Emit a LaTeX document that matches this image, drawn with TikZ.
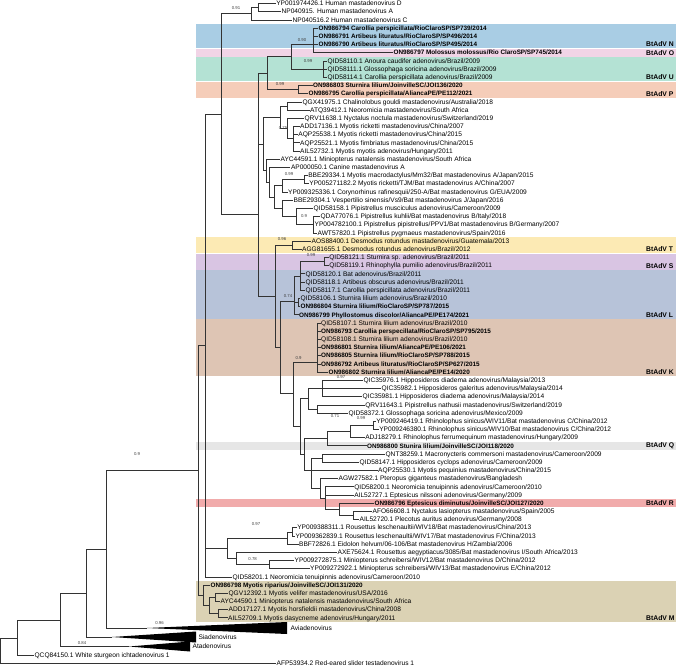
\documentclass[tikz,border=0pt]{standalone}
\usepackage{fontspec}
\setmainfont{Liberation Sans}
\definecolor{cladeN}{HTML}{A9CDE4}
\definecolor{cladeO}{HTML}{F1D4E6}
\definecolor{cladeU}{HTML}{B4E2D4}
\definecolor{cladeP}{HTML}{F5CDB9}
\definecolor{cladeT}{HTML}{FCEAB4}
\definecolor{cladeS}{HTML}{D9C5E3}
\definecolor{cladeL}{HTML}{B7C3D9}
\definecolor{cladeK}{HTML}{DEC5B4}
\definecolor{cladeQ}{HTML}{E6E6E6}
\definecolor{cladeR}{HTML}{F1ABAB}
\definecolor{cladeM}{HTML}{DBD2B4}
\newcommand{\lf}[5][leaf]{\node[#1] (#2) at (#4,{3.5+(#3-1)*8.19}) {#5};}
\newcommand{\br}[2]{\foreach \ch in {#2} {\draw[branch] (#1) |- (\ch);}}

\begin{document}
\begin{tikzpicture}[x=1pt,y=-1pt,
    leaf/.style={anchor=west,inner sep=0.4pt,text height=4.6pt,text depth=0pt,font=\fontsize{6.6}{7}\selectfont},
    bleaf/.style={leaf,font=\fontsize{6.35}{7}\selectfont\bfseries},
    supp/.style={inner sep=0pt,text=black!75,font=\fontsize{4.3}{5}\selectfont},
    clade/.style={anchor=west,inner sep=0pt,font=\fontsize{6.8}{7}\selectfont\bfseries},
    branch/.style={draw=black!80,line width=0.55pt},
    wedge/.style={fill=black}]
\useasboundingbox (0,0) rectangle (676,668);

\fill[cladeN] (196,24.0) rectangle (676,48.3);
\fill[cladeO] (196,48.8) rectangle (676,56.6);
\fill[cladeU] (196,57.1) rectangle (676,81.1);
\fill[cladeP] (196,81.6) rectangle (676,97.6);
\fill[cladeT] (196,236.9) rectangle (676,253.1);
\fill[cladeS] (196,253.6) rectangle (676,269.5);
\fill[cladeL] (196,270.0) rectangle (676,318.6);
\fill[cladeK] (196,319.1) rectangle (676,376.1);
\fill[cladeQ] (196,441.7) rectangle (676,449.8);
\fill[cladeR] (196,499.0) rectangle (676,507.2);
\fill[cladeM] (196,580.9) rectangle (676,621.8);

\lf{L1}{1}{275.7}{YP001974426.1 Human mastadenovirus D}
\lf{L2}{2}{281}{NP040915. Human mastadenovirus A}
\lf{L3}{3}{292}{NP040516.2 Human mastadenovirus C}
\lf[bleaf]{L4}{4}{318}{ON986794 Carollia perspicillata/RioClaroSP/SP739/2014}
\lf[bleaf]{L5}{5}{318}{ON986791 Artibeus lituratus/RioClaroSP/SP496/2014}
\lf[bleaf]{L6}{6}{318}{ON986790 Artibeus lituratus/RioClaroSP/SP495/2014}
\lf[bleaf]{L7}{7}{393}{ON986797 Molossus molossus/Rio ClaroSP/SP745/2014}
\lf{L8}{8}{327}{QID58110.1 Anoura caudifer adenovirus/Brazil/2009}
\lf{L9}{9}{327}{QID58111.1 Glossophaga soricina adenovirus/Brazil/2009}
\lf{L10}{10}{327}{QID58114.1 Carollia perspicillata adenovirus/Brazil/2009}
\lf[bleaf]{L11}{11}{312.5}{ON986803 Sturnira lilium/JoinvilleSC/JOI136/2020}
\lf[bleaf]{L12}{12}{308}{ON986795 Carollia perspicillata/AliancaPE/PE112/2021}
\lf{L13}{13}{302}{QGX41975.1 Chalinolobus gouldi mastadenovirus/Australia/2018}
\lf{L14}{14}{309.5}{ATQ39412.1 Neoromicia mastadenovirus/South Africa}
\lf{L15}{15}{304}{QRV11638.1 Nyctalus noctula mastadenovirus/Switzerland/2019}
\lf{L16}{16}{299.6}{ADD17136.1 Myotis ricketti mastadenovirus/China/2007}
\lf{L17}{17}{297.8}{AQP25538.1 Myotis ricketti mastadenovirus/China/2015}
\lf{L18}{18}{299.6}{AQP25521.1 Myotis fimbriatus mastadenovirus/China/2015}
\lf{L19}{19}{299.6}{AIL52732.1 Myotis myotis adenovirus/Hungary/2011}
\lf{L20}{20}{280}{AYC44591.1 Miniopterus natalensis mastadenovirus/South Africa}
\lf{L21}{21}{290.4}{AP000050.1 Canine mastadenovirus A}
\lf{L22}{22}{307.7}{BBE29334.1 Myotis macrodactylus/Mm32/Bat mastadenovirus A/Japan/2015}
\lf{L23}{23}{308.8}{YP005271182.2 Myotis ricketti/TJM/Bat mastadenovirus A/China/2007}
\lf{L24}{24}{287.5}{YP009325336.1 Corynorhinus rafinesquii/250-A/Bat mastadenovirus G/EUA/2009}
\lf{L25}{25}{293}{BBE29304.1 Vespertilio sinensis/Vs9/Bat mastadenovirus J/Japan/2016}
\lf{L26}{26}{313}{QID58158.1 Pipistrellus musciculus adenovirus/Cameroon/2009}
\lf{L27}{27}{320}{QDA77076.1 Pipistrellus kuhlii/Bat mastadenovirus B/Italy/2018}
\lf{L28}{28}{314}{YP004782100.1 Pipistrellus pipistrellus/PPV1/Bat mastadenovirus B/Germany/2007}
\lf{L29}{29}{317}{AWT57820.1 Pipistrellus pygmaeus mastadenovirus/Spain/2016}
\lf{L30}{30}{311}{AOS88400.1 Desmodus rotundus mastadenovirus/Guatemala/2013}
\lf{L31}{31}{301.5}{AGG81655.1 Desmodus rotundus adenovirus/Brazil/2012}
\lf{L32}{32}{328.7}{QID58121.1 Sturnira sp. adenovirus/Brazil/2011}
\lf{L33}{33}{328.7}{QID58119.1 Rhinophylla pumilio adenovirus/Brazil/2011}
\lf{L34}{34}{305}{QID58120.1 Bat adenovirus/Brazil/2011}
\lf{L35}{35}{305}{QID58118.1 Artibeus obscurus adenovirus/Brazil/2011}
\lf{L36}{36}{305}{QID58117.1 Carollia perspicillata adenovirus/Brazil/2011}
\lf{L37}{37}{300}{QID58106.1 Sturnira lilium adenovirus/Brazil/2010}
\lf[bleaf]{L38}{38}{300}{ON986804 Sturnira lilium/RioClaroSP/SP787/2015}
\lf[bleaf]{L39}{39}{298.5}{ON986799 Phyllostomus discolor/AliancaPE/PE174/2021}
\lf{L40}{40}{320.6}{QID58107.1 Sturnira lilium adenovirus/Brazil/2010}
\lf[bleaf]{L41}{41}{320.6}{ON986793 Carollia perspecillata/RioClaroSP/SP795/2015}
\lf{L42}{42}{320.6}{QID58108.1 Sturnira lilium adenovirus/Brazil/2010}
\lf[bleaf]{L43}{43}{320.6}{ON986801 Sturnira lilium/AliancaPE/PE106/2021}
\lf[bleaf]{L44}{44}{320.6}{ON986805 Sturnira lilium/RioClaroSP/SP788/2015}
\lf[bleaf]{L45}{45}{320.6}{ON986792 Artibeus lituratus/RioClaroSP/SP627/2015}
\lf[bleaf]{L46}{46}{328}{ON986802 Sturnira lilium/AliancaPE/PE14/2020}
\lf{L47}{47}{363}{QIC35976.1 Hipposideros diadema adenovirus/Malaysia/2013}
\lf{L48}{48}{381}{QIC35982.1 Hipposideros galeritus adenovirus/Malaysia/2014}
\lf{L49}{49}{362}{QIC35981.1 Hipposideros diadema adenovirus/Malaysia/2014}
\lf{L50}{50}{364.7}{QRV11643.1 Pipistrellus nathusii mastadenovirus/Switzerland/2019}
\lf{L51}{51}{348}{QID58372.1 Glossophaga soricina adenovirus/Mexico/2009}
\lf{L52}{52}{375.7}{YP009246419.1 Rhinolophus sinicus/WIV11/Bat mastadenovirus C/China/2012}
\lf{L53}{53}{378.7}{YP009246380.1 Rhinolophus sinicus/WIV10/Bat mastadenovirus C/China/2012}
\lf{L54}{54}{364.7}{ADJ18279.1 Rhinolophus ferrumequinum mastadenovirus/Hungary/2009}
\lf[bleaf]{L55}{55}{366.5}{ON986800 Stunira lilium/JoinvilleSC/JOI118/2020}
\lf{L56}{56}{385}{QNT38259.1 Macronycteris commersoni mastadenovirus/Cameroon/2009}
\lf{L57}{57}{359}{QID58147.1 Hipposideros cyclops adenovirus/Cameroon/2009}
\lf{L58}{58}{377.6}{AQP25530.1 Myotis pequinius mastadenovirus/China/2015}
\lf{L59}{59}{338}{AGW27582.1 Pteropus giganteus mastadenovirus/Bangladesh}
\lf{L60}{60}{353.7}{QID58200.1 Neoromicia tenuipinnis adenovirus/Cameroon/2010}
\lf{L61}{61}{353.7}{AIL52727.1 Eptesicus nilssoni adenovirus/Germany/2009}
\lf[bleaf]{L62}{62}{374}{ON986796 Eptesicus diminutus/JoinvilleSC/JOI127/2020}
\lf{L63}{63}{372}{AFO66608.1 Nyctalus lasiopterus mastadenovirus/Spain/2005}
\lf{L64}{64}{359}{AIL52720.1 Plecotus auritus adenovirus/Germany/2008}
\lf{L65}{65}{296.7}{YP009388311.1 Rousettus leschenaultii/WIV18/Bat mastadenovirus/China/2013}
\lf{L66}{66}{294.9}{YP009362839.1 Rousettus leschenaultii/WIV17/Bat mastadenovirus F/China/2013}
\lf{L67}{67}{298.5}{BBF72826.1 Eidolon helvum/06-106/Bat mastadenovirus H/Zambia/2006}
\lf{L68}{68}{337}{AXE75624.1 Rousettus aegyptiacus/3085/Bat mastadenovirus I/South Africa/2013}
\lf{L69}{69}{294}{YP009272875.1 Miniopterus schreibersi/WIV12/Bat mastadenovirus D/China/2012}
\lf{L70}{70}{309.6}{YP009272922.1 Miniopterus schreibersi/WIV13/Bat mastadenovirus E/China/2012}
\lf{L71}{71}{232}{QID58201.1 Neoromicia tenuipinnis adenovirus/Cameroon/2010}
\lf[bleaf]{L72}{72}{210}{ON986798 Myotis riparius/JoinvilleSC/JOI131/2020}
\lf{L73}{73}{228}{QGV12392.1 Myotis velifer mastadenovirus/USA/2016}
\lf{L74}{74}{220}{AYC44590.1 Miniopterus natalensis mastadenovirus/South Africa}
\lf{L75}{75}{228}{ADD17127.1 Myotis horsfieldii mastadenovirus/China/2008}
\lf{L76}{76}{227.6}{AIL52709.1 Myotis dasycneme adenovirus/Hungary/2011}
\node[leaf] (WS) at (34,655.5) {QCQ84150.1 White sturgeon ichtadenovirus 1};
\node[leaf] (RE) at (276,663) {AFP53934.2 Red-eared slider testadenovirus 1};

\node[clade] (tN) at (646,44.45) {BtAdV N};
\node[clade] (tO) at (646,52.64) {BtAdV O};
\node[clade] (tU) at (646,77.21) {BtAdV U};
\node[clade] (tP) at (646,93.59) {BtAdV P};
\node[clade] (tT) at (646,249.2) {BtAdV T};
\node[clade] (tS) at (646,265.58) {BtAdV S};
\node[clade] (tL) at (646,314.72) {BtAdV L};
\node[clade] (tK) at (646,372.05) {BtAdV K};
\node[clade] (tQ) at (646,445.76) {BtAdV Q};
\node[clade] (tR) at (646,503.09) {BtAdV R};
\node[clade] (tM) at (646,617.75) {BtAdV M};

\coordinate (HDA) at (258,7.6);
\coordinate (HUM) at (251,13.7);
\coordinate (NO) at (313,44.45);
\coordinate (U) at (323.5,69.02);
\coordinate (NOU) at (291,56.7);
\coordinate (P) at (298.5,89.5);
\coordinate (X267) at (267,73.1);
\coordinate (V1) at (287.5,105.9);
\coordinate (MY) at (293,138.6);
\coordinate (V2) at (287.5,128.4);
\coordinate (V3) at (280,117.1);
\coordinate (V10) at (304,179.6);
\coordinate (V8) at (282,185.7);
\coordinate (V12) at (313,224.6);
\coordinate (V11) at (296.7,216.4);
\coordinate (V9) at (282.7,208.2);
\coordinate (V7) at (274.6,197);
\coordinate (V6) at (269,182.1);
\coordinate (V5) at (266,170.6);
\coordinate (V4) at (263,143.8);
\coordinate (T) at (292,245.1);
\coordinate (S) at (324,261.5);
\coordinate (LA) at (300,276);
\coordinate (LC) at (298,302.4);
\coordinate (LB) at (294,301.7);
\coordinate (K) at (317,362);
\coordinate (A1) at (322,388.4);
\coordinate (A3) at (317,408.9);
\coordinate (A2) at (308.5,398.7);
\coordinate (R3) at (373,425.3);
\coordinate (R2) at (350,431.4);
\coordinate (R1) at (327,438.6);
\coordinate (B2) at (322,458);
\coordinate (B6) at (353.7,515.4);
\coordinate (B5) at (339,509.2);
\coordinate (B4) at (325,498);
\coordinate (B3) at (320,488.3);
\coordinate (B1) at (311,470.3);
\coordinate (C6) at (304,454.5);
\coordinate (C5) at (300,426.6);
\coordinate (C4) at (293.7,393);
\coordinate (C2) at (280,347);
\coordinate (C1) at (275.7,296);
\coordinate (X258) at (258,214);
\coordinate (X221) at (221,113.9);
\coordinate (Y1) at (292,531.8);
\coordinate (Y2) at (287.5,538);
\coordinate (MI) at (269,564.5);
\coordinate (Y4) at (236,558.4);
\coordinate (Y3) at (226.8,548.2);
\coordinate (X205) at (205,345);
\coordinate (M2) at (215,597.3);
\coordinate (M3) at (218,613.7);
\coordinate (M1) at (209,605.5);
\coordinate (M0) at (203,595.2);
\coordinate (X197) at (198.5,470);
\coordinate (AVIA) at (147,628);
\coordinate (SIA) at (112,637);
\coordinate (ATA) at (129,646.5);
\coordinate (X106) at (106,549);
\coordinate (X86) at (86,593);
\coordinate (X60) at (60,620);
\coordinate (X17) at (17,638);
\coordinate (X0) at (0.5,650);

\br{HDA}{L1,L2}
\br{HUM}{HDA,L3}
\br{NO}{L4,L5,L6,L7}
\br{U}{L8,L9,L10}
\br{NOU}{NO,U}
\br{P}{L11,L12}
\br{X267}{NOU,P}
\br{V1}{L13,L14}
\br{MY}{L16,L17,L18,L19}
\br{V2}{L15,MY}
\br{V3}{V1,V2}
\br{V10}{L22,L23}
\br{V8}{V10,L24}
\br{V12}{L27,L28,L29}
\br{V11}{L26,V12}
\br{V9}{L25,V11}
\br{V7}{V8,V9}
\br{V6}{L21,V7}
\br{V5}{L20,V6}
\br{V4}{V3,V5}
\br{T}{L30,L31}
\br{S}{L32,L33}
\br{LA}{S,L34,L35,L36}
\br{LC}{L37,L38}
\br{LB}{LA,LC,L39}
\br{K}{L40,L41,L42,L43,L44,L45,L46}
\br{A1}{L47,L48,L49}
\br{A3}{L50,L51}
\br{A2}{A1,A3}
\br{R3}{L52,L53}
\br{R2}{R3,L54}
\br{R1}{R2,L55}
\br{B2}{L56,L57}
\br{B6}{L63,L64}
\br{B5}{L62,B6}
\br{B4}{L60,L61,B5}
\br{B3}{L59,B4}
\br{B1}{B2,L58,B3}
\br{C6}{R1,B1}
\br{C5}{A2,C6}
\br{C4}{K,C5}
\br{C2}{LB,C4}
\br{C1}{T,C2}
\br{X258}{X267,V4,C1}
\br{X221}{HUM,X258}
\br{Y1}{L65,L66}
\br{Y2}{Y1,L67}
\br{MI}{L69,L70}
\br{Y4}{L68,MI}
\br{Y3}{Y2,Y4}
\br{X205}{X221,Y3,L71}
\br{M2}{L73,L74}
\br{M3}{L75,L76}
\br{M1}{M2,M3}
\br{M0}{L72,M1}
\br{X197}{X205,M0}
\br{X106}{X197,AVIA}
\br{X86}{X106,SIA}
\br{X60}{X86,ATA}
\br{X17}{X60,WS}
\br{X0}{X17,RE}

\fill[wedge] (AVIA) -- (287,622) -- (287,634) -- cycle;
\fill[wedge] (SIA) -- (196,631.5) -- (196,642.5) -- cycle;
\fill[wedge] (ATA) -- (190,641.5) -- (190,651.5) -- cycle;
\node[leaf] (tAvia) at (290,628) {Aviadenovirus};
\node[leaf] (tSia) at (198,637) {Siadenovirus};
\node[leaf] (tAta) at (192,646.5) {Atadenovirus};

\node[supp] (s1) at (236,8.5) {0.91};
\node[supp] (s2) at (302,40.5) {0.90};
\node[supp] (s3) at (308,61) {0.99};
\node[supp] (s4) at (280,84) {0.99};
\node[supp] (s5) at (283,128) {0.75};
\node[supp] (s6) at (289,173.7) {0.99};
\node[supp] (s7) at (304,216.3) {0.9};
\node[supp] (s8) at (282,239.3) {0.96};
\node[supp] (s9) at (311,255.3) {0.99};
\node[supp] (s10) at (288,296) {0.74};
\node[supp] (s11) at (298.5,358.3) {0.9};
\node[supp] (s12) at (341,377) {0.97};
\node[supp] (s13) at (361,418) {0.99};
\node[supp] (s14) at (335,416.3) {0.71};
\node[supp] (s15) at (137,454) {0.9};
\node[supp] (s16) at (256,524.3) {0.97};
\node[supp] (s17) at (252.6,559.3) {0.78};
\node[supp] (s18) at (159.5,623.3) {0.96};
\node[supp] (s19) at (82,643.5) {0.84};
\end{tikzpicture}
\end{document}
